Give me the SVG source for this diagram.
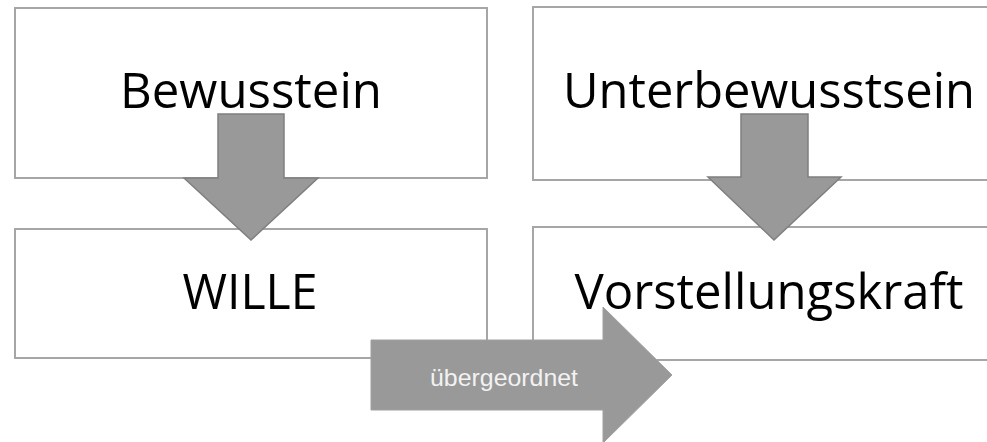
<svg xmlns="http://www.w3.org/2000/svg" width="987" height="442" viewBox="0 0 987 442">
<style>
.box{fill:#ffffff;stroke:#a6a6a6;stroke-width:2}
.lbl{font-family:"Open Sans","Noto Sans","DejaVu Sans",sans-serif;font-size:49px;fill:#000000;text-anchor:middle}
.dn{fill:#999999;stroke:#7f7f7f;stroke-width:1.5}
.rt{fill:#999999;stroke:#a0a0a0;stroke-width:1}
.small{font-family:"Liberation Sans",Arial,sans-serif;font-size:24px;fill:#f2f2f2;text-anchor:middle}
</style>
<rect width="987" height="442" fill="#ffffff"/>
<g id="node-bewusstein">
<rect class="box" x="15" y="8" width="472" height="170"/>
<text class="lbl" x="251" y="108" textLength="262" lengthAdjust="spacingAndGlyphs">Bewusstein</text>
</g>
<g id="node-unterbewusstsein">
<rect class="box" x="533" y="7" width="470" height="173"/>
<text class="lbl" x="769" y="108" textLength="412" lengthAdjust="spacingAndGlyphs">Unterbewusstsein</text>
</g>
<g id="node-wille">
<rect class="box" x="15" y="229" width="472" height="129"/>
<text class="lbl" x="250" y="309" textLength="135" lengthAdjust="spacingAndGlyphs">WILLE</text>
</g>
<g id="node-vorstellungskraft">
<rect class="box" x="533" y="227" width="470" height="133"/>
<text class="lbl" x="769" y="309" textLength="389" lengthAdjust="spacingAndGlyphs">Vorstellungskraft</text>
</g>
<g id="connectors">
<polygon class="dn" points="218,114 284,114 284,178 318,178 251,240 184,178 218,178"/>
<polygon class="dn" points="741,114 808,114 808,177 841,177 774,240 708,177 741,177"/>
<g id="arrow-uebergeordnet">
<polygon class="rt" points="371,340 603,340 603,307 672,375 603,443 603,410 371,410"/>
<text class="small" x="504" y="386" textLength="148" lengthAdjust="spacingAndGlyphs">übergeordnet</text>
</g>
</g>
</svg>
